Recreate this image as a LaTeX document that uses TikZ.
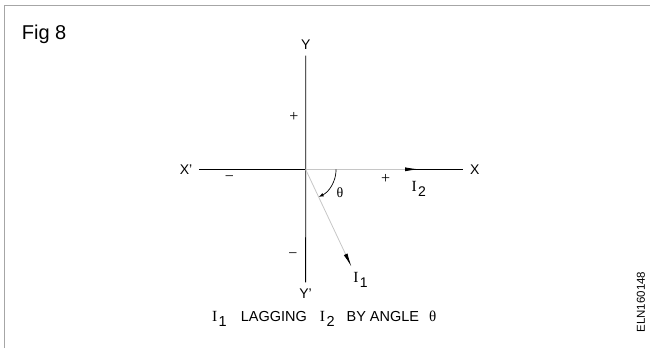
\documentclass[tikz,border=0pt]{standalone}
\usepackage{fontspec}
\setmainfont{Liberation Sans}
\newfontfamily\seriffont{Liberation Serif}
\usetikzlibrary{arrows.meta}
\newcommand{\phasor}[1]{{\seriffont\fontsize{15.5}{17}\selectfont I}\hspace{1.5pt}\raisebox{-5pt}{#1}}

\begin{document}
\begin{tikzpicture}[x=1pt, y=1pt,
    frameline/.style={draw=gray!70, line width=0.9pt},
    axis/.style={draw=black, line width=0.8pt},
    axlabel/.style={font=\fontsize{14}{16}\selectfont, inner sep=6.5pt},
    vec/.style={draw=gray!45, line width=0.8pt, -{Latex[length=14pt, width=4pt, color=black]}},
    anglearc/.style={draw=black, line width=0.7pt, -{Latex[length=5pt, width=3.5pt]}},
    sign/.style={font=\seriffont\fontsize{16}{18}\selectfont, inner sep=0pt},
    phlabel/.style={font=\fontsize{14}{16}\selectfont, inner sep=0pt},
    caption/.style={font=\fontsize{14.5}{17}\selectfont, inner sep=0pt}
]
\useasboundingbox (0,0) rectangle (650,-348);

% ===== FRAME =====
\coordinate (fbl) at (4.5,-348);
\coordinate (ftl) at (4.5,-5);
\coordinate (ftr) at (650,-5);
\draw[frameline] (fbl) -- (ftl) -- (ftr);

\node[font=\fontsize{20}{24}\selectfont, inner sep=0pt, anchor=base west] (fig) at (21.7,-39.3) {Fig 8};

% ===== AXES =====
\coordinate (O) at (305.6,-169.3);
\node[axlabel] (Y) at (305.8,-44.2) {Y};
\node[axlabel] (Yn) at (305.6,-294) {Y'};
\node[axlabel] (Xn) at (186,-169.3) {X'};
\node[axlabel] (X) at (474.7,-169.3) {X};
\draw[axis] (Xn) -- (X);
\draw[axis] (Y) -- (Yn);

% Quadrant signs
\foreach \x/\y/\s [count=\k] in {293.8/-116.7/+, 229.5/-178.3/−, 385.6/-179.3/+, 293/-256/−} {
    \node[sign] (sign\k) at (\x,\y) {\s};
}

% ===== PHASORS =====
\coordinate (I2tip) at (419,-169.3);
\coordinate (I1tip) at (351.6,-267);
\draw[vec] (O) -- (I2tip);
\draw[vec] (O) -- (I1tip);

% Angle between them
\draw[anglearc] ([shift={(0:30.5)}]O) arc[start angle=0, end angle=-64.8, radius=30.5];
\node[font=\seriffont\fontsize{14}{16}\selectfont, inner sep=0pt] (theta) at (340,-192.3) {θ};

\node[phlabel] (I2) at (418.8,-188.8) {\phasor{2}};
\node[phlabel] (I1) at (360.5,-280) {\phasor{1}};

% ===== CAPTION =====
\node[caption, anchor=base] (cap) at (324.2,-321.7)
    {\phasor{1}\hspace{14pt}LAGGING\hspace{13pt}\phasor{2}\hspace{12pt}BY ANGLE\hspace{10pt}{\seriffont\fontsize{15}{17}\selectfont θ}};

\node[rotate=90, font=\fontsize{11.5}{13}\selectfont, inner sep=0pt] (code) at (641,-302) {ELN160148};

\end{tikzpicture}
\end{document}
